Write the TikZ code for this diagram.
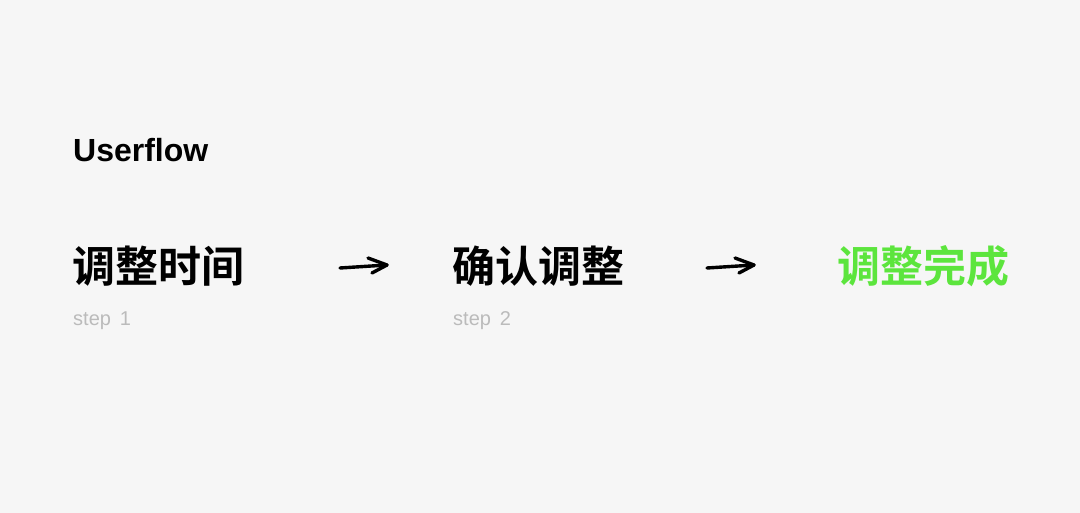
\documentclass[tikz,border=0pt]{standalone}
\usepackage{fontspec}
\setmainfont{Liberation Sans}
\newfontfamily\cjkb[BoldFont={Noto Sans CJK SC Bold}]{Noto Sans CJK SC Bold}
\definecolor{bgc}{HTML}{F6F6F6}
\definecolor{stepgray}{HTML}{BBBBBB}
\definecolor{donegreen}{HTML}{5CE53D}
\begin{document}
\begin{tikzpicture}[x=1pt,y=-1pt,
  title/.style={anchor=base west,inner sep=0pt,font=\fontsize{32}{32}\selectfont\bfseries,text=black},
  stage/.style={anchor=base west,inner sep=0pt,font=\cjkb\fontsize{43}{43}\selectfont,text=black},
  steplabel/.style={anchor=base west,inner sep=0pt,font=\fontsize{20}{20}\selectfont,text=stepgray},
  flowarrow/.style={line width=3.4pt,line cap=round,line join=round,black}]
\fill[bgc] (0,0) rectangle (1080,513);
\useasboundingbox (0,0) rectangle (1080,513);
\node[title] (title) at (73,162) {Userflow};
\node[stage] (s1) at (72,283) {调整时间};
\node[stage] (s2) at (452,283) {确认调整};
\node[stage,text=donegreen] (s3) at (837,283) {调整完成};
\node[steplabel] (l1) at (73,326) {step\, 1};
\node[steplabel] (l2) at (453,326) {step\, 2};
% arrows between stages
\coordinate (a1s) at (340,268);
\coordinate (a1e) at (387,265);
\coordinate (a2s) at (707,268);
\coordinate (a2e) at (754,265);
\draw[flowarrow] (a1s) -- (a1e);
\draw[flowarrow] ([shift={(-19,-7)}]a1e) -- (a1e) -- ([shift={(-15,8)}]a1e);
\draw[flowarrow] (a2s) -- (a2e);
\draw[flowarrow] ([shift={(-19,-7)}]a2e) -- (a2e) -- ([shift={(-15,8)}]a2e);
\end{tikzpicture}
\end{document}
